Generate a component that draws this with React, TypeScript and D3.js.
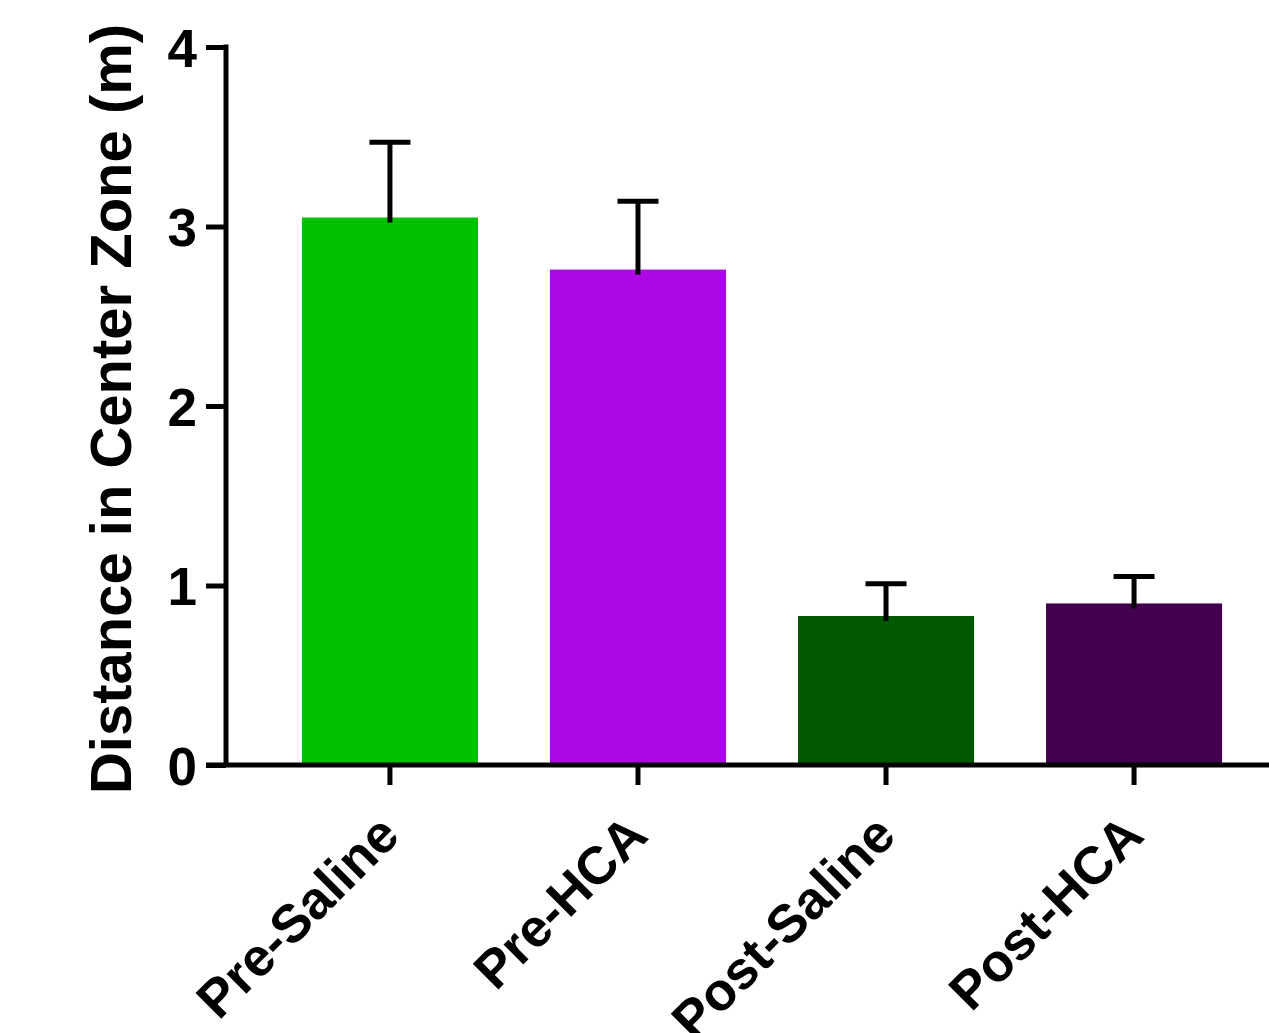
import React, { useEffect, useRef } from 'react';
import * as d3 from 'd3';

const groups = ['Pre-Saline', 'Pre-HCA', 'Post-Saline', 'Post-HCA'];
const means = [3.05, 2.76, 0.83, 0.9];
const sems = [0.42, 0.38, 0.18, 0.15];
const colors = ['#00c000', '#ab08e3', '#005800', '#42004f'];
const yTicks = [0, 1, 2, 3, 4];

const App = () => {
    const svgRef = useRef<SVGSVGElement>(null);
    const width = 1269;
    const height = 1033;
    const font = '"Liberation Sans", Arial, Helvetica, sans-serif';

    useEffect(() => {
        const svg = d3.select(svgRef.current);
        svg.selectAll('*').remove();

        const x = d3
            .scaleBand<string>()
            .domain(groups)
            .range([226, 1298])
            .paddingInner(0.29)
            .paddingOuter(0.306);

        const y = d3.scaleLinear().domain([0, 4]).range([765, 47]);

        // bars
        svg.append('g')
            .selectAll('rect')
            .data(groups)
            .join('rect')
            .attr('x', d => x(d)!)
            .attr('y', (d, i) => y(means[i]))
            .attr('width', x.bandwidth())
            .attr('height', (d, i) => y(0) - y(means[i]))
            .attr('fill', (d, i) => colors[i]);

        // error bars (upper only)
        const err = svg.append('g').attr('stroke', '#000').attr('stroke-width', 5);
        groups.forEach((g, i) => {
            const cx = x(g)! + x.bandwidth() / 2;
            const top = y(means[i] + sems[i]);
            err.append('line')
                .attr('x1', cx).attr('x2', cx)
                .attr('y1', y(means[i]) + 5).attr('y2', top);
            err.append('line')
                .attr('x1', cx - 20.5).attr('x2', cx + 20.5)
                .attr('y1', top).attr('y2', top);
        });

        // y axis
        const yAxis = svg.append('g')
            .attr('transform', 'translate(226,0)')
            .call(d3.axisLeft(y).tickValues(yTicks).tickFormat(d3.format('d')).tickSize(20).tickSizeOuter(0).tickPadding(9));
        yAxis.select('.domain').attr('stroke-width', 5).attr('d', `M0,${y(4) - 2.5}V${y(0)}`);
        yAxis.selectAll('.tick line').attr('stroke-width', 5);
        yAxis.selectAll('.tick text')
            .attr('font-family', font)
            .attr('font-weight', 'bold')
            .attr('font-size', 53)
            .attr('dy', '0.36em')
            .attr('fill', '#000');

        // x axis
        const xAxis = svg.append('g')
            .attr('transform', `translate(0,${y(0)})`)
            .call(d3.axisBottom(x).tickSize(20).tickSizeOuter(0));
        xAxis.select('.domain').attr('stroke-width', 5).attr('d', `M${226 - 20},0H${width}`);
        xAxis.selectAll('.tick line').attr('stroke-width', 5);
        xAxis.selectAll('.tick text').remove();

        svg.append('g')
            .selectAll('text')
            .data(groups)
            .join('text')
            .attr('transform', d => `translate(${x(d)! + x.bandwidth() / 2 + 12},838) rotate(-45)`)
            .attr('text-anchor', 'end')
            .attr('font-family', font)
            .attr('font-weight', 'bold')
            .attr('font-size', 53)
            .attr('fill', '#000')
            .text(d => d);

        // y title
        svg.append('text')
            .attr('transform', `translate(131,409) rotate(-90)`)
            .attr('text-anchor', 'middle')
            .attr('font-family', font)
            .attr('font-weight', 'bold')
            .attr('font-size', 58)
            .attr('fill', '#000')
            .text('Distance in Center Zone (m)');
    }, []);

    return (
        <svg
            ref={svgRef}
            width={width}
            height={height}
            style={{ position: 'absolute', left: 0, top: 0, background: '#fff' }}
        ></svg>
    );
};

export default App;
